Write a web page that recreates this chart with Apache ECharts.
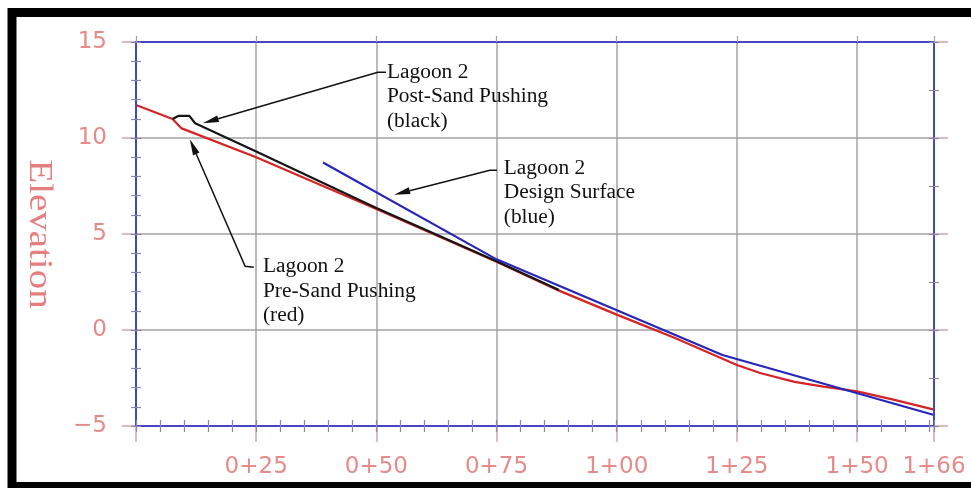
<!DOCTYPE html>
<html>
<head>
<meta charset="utf-8">
<script src="https://cdn.jsdelivr.net/npm/echarts@6/dist/echarts.min.js"></script>
<style>
html,body{margin:0;padding:0;background:#fff;}
#c{width:971px;height:488px;}
</style>
</head>
<body>
<div id="c"></div>
<script>
// ---- data (station in ft, elevation) ----
const preX  = [0, 7.6, 9.5, 25, 50, 75, 88, 100, 112, 125, 130, 137, 143, 150, 158, 166];
const preY  = [11.72, 10.99, 10.5, 9.0, 6.3, 3.55, 2.05, 0.8, -0.4, -1.82, -2.25, -2.7, -2.95, -3.2, -3.65, -4.15];
const postX = [7.6, 8.8, 11.1, 12.3, 25, 50, 75, 88];
const postY = [10.99, 11.15, 11.15, 10.77, 9.3, 6.36, 3.58, 2.08];
const designX = [38.9, 75, 122, 166];
const designY = [8.72, 3.68, -1.3, -4.43];

const xTicks = [25, 50, 75, 100, 125, 150, 166];
const yTicks = [-5, 0, 5, 10, 15];
const yTitle = 'Elevation';

const noteTexts = ['Lagoon 2\nPost-Sand Pushing\n(black)', 'Lagoon 2\nDesign Surface\n(blue)', 'Lagoon 2\nPre-Sand Pushing\n(red)'];
const noteAnchors = [[52.2, 14.05], [76.5, 9.05], [26.4, 3.92]];
const noteArrows = [
  [[52.0, 13.42], [50.3, 13.42], [13.9, 10.77]],
  [[75.1, 8.32], [73.6, 8.32], [53.7, 7.05]],
  [[24.5, 3.27], [22.7, 3.32], [11.2, 9.93]]
];

const zip = (xs, ys) => xs.map((x, i) => [x, ys[i]]);
const fmtX = v => {
  if (!xTicks.includes(Math.round(v))) return '';
  const h = Math.floor(v / 100), r = Math.round(v % 100);
  return h + '+' + (r < 10 ? '0' + r : r);
};
const fmtY = v => String(v).replace('-', '\u2212');

const BLUE_AX = '#4646c4';
const GRIDC = '#a3a3a3';
const LABC = '#e68a8a';
const MAJT = '#d2a4aa';
const MINT = '#8a88a8';

const chart = echarts.init(document.getElementById('c'), null, {renderer: 'canvas'});

const xBase = {type: 'value', min: 0, max: 166, gridIndex: 0};
const yBase = {type: 'value', min: yTicks[0], max: yTicks[yTicks.length - 1], gridIndex: 0};
const noLine = {show: false, onZero: false};
const blueLine = {show: true, onZero: false, lineStyle: {color: BLUE_AX, width: 2}};

chart.setOption({
  animation: false,
  backgroundColor: '#ffffff',
  grid: {left: 136, top: 42, width: 798, height: 384, outerBoundsMode: 'none', containLabel: false},
  xAxis: [
    Object.assign({}, xBase, {position: 'bottom', interval: 25, z: 1,
      axisLine: noLine,
      axisTick: {show: true, length: 16, lineStyle: {color: MAJT, width: 1.5}},
      axisLabel: {show: true, formatter: fmtX, showMaxLabel: true, showMinLabel: true, color: LABC,
        fontFamily: 'DejaVu Sans', fontSize: 23, margin: 30},
      splitLine: {show: true, lineStyle: {color: GRIDC, width: 1.5}}}),
    Object.assign({}, xBase, {position: 'bottom', interval: 5, z: 3,
      axisLine: blueLine,
      axisTick: {show: true, inside: true, length: 6, lineStyle: {color: MINT, width: 1.2}},
      axisLabel: {show: false}, splitLine: {show: false}}),
    Object.assign({}, xBase, {position: 'bottom', interval: 5, z: 3,
      axisLine: noLine,
      axisTick: {show: true, inside: false, length: 6, lineStyle: {color: MINT, width: 1.2}},
      axisLabel: {show: false}, splitLine: {show: false}}),
    Object.assign({}, xBase, {position: 'top', interval: 25, z: 3,
      axisLine: blueLine,
      axisTick: {show: true, length: 6, lineStyle: {color: GRIDC, width: 1.2}},
      axisLabel: {show: false}, splitLine: {show: false}})
  ],
  yAxis: [
    Object.assign({}, yBase, {position: 'left', interval: 5, z: 1,
      axisLine: noLine,
      axisTick: {show: true, length: 14, lineStyle: {color: MAJT, width: 1.5}},
      axisLabel: {show: true, formatter: fmtY, color: LABC, fontFamily: 'DejaVu Sans', fontSize: 23, margin: 29},
      splitLine: {show: true, lineStyle: {color: GRIDC, width: 1.5}}}),
    Object.assign({}, yBase, {position: 'left', interval: 1, z: 3,
      axisLine: blueLine,
      axisTick: {show: true, inside: true, length: 5, lineStyle: {color: MINT, width: 1.2}},
      axisLabel: {show: false}, splitLine: {show: false}}),
    Object.assign({}, yBase, {position: 'left', interval: 1, z: 3,
      axisLine: noLine,
      axisTick: {show: true, inside: false, length: 5, lineStyle: {color: MINT, width: 1.2}},
      axisLabel: {show: false}, splitLine: {show: false}}),
    Object.assign({}, yBase, {position: 'right', interval: 5, z: 3,
      axisLine: blueLine,
      axisTick: {show: true, length: 14, lineStyle: {color: MAJT, width: 1.5}},
      axisLabel: {show: false}, splitLine: {show: false}}),
    Object.assign({}, yBase, {position: 'right', interval: 2.5, z: 3,
      axisLine: noLine,
      axisTick: {show: true, inside: true, length: 5, lineStyle: {color: MINT, width: 1.2}},
      axisLabel: {show: false}, splitLine: {show: false}}),
    Object.assign({}, yBase, {position: 'right', interval: 2.5, z: 3,
      axisLine: noLine,
      axisTick: {show: true, inside: false, length: 5, lineStyle: {color: MINT, width: 1.2}},
      axisLabel: {show: false}, splitLine: {show: false}})
  ],
  series: [
    {name: 'Pre-Sand Pushing', type: 'line', xAxisIndex: 0, yAxisIndex: 0, data: zip(preX, preY),
      showSymbol: false, symbol: 'none', lineStyle: {color: '#d42426', width: 2.2}, z: 2},
    {name: 'Post-Sand Pushing', type: 'line', xAxisIndex: 0, yAxisIndex: 0, data: zip(postX, postY),
      showSymbol: false, symbol: 'none', lineStyle: {color: '#151515', width: 2.2}, z: 2},
    {name: 'Design Surface', type: 'line', xAxisIndex: 0, yAxisIndex: 0, data: zip(designX, designY),
      showSymbol: false, symbol: 'none', lineStyle: {color: '#2626b8', width: 2.2}, z: 2}
  ]
});

const toPx = p => chart.convertToPixel({xAxisIndex: 0, yAxisIndex: 0}, p);

function arrowEls(pts) {
  const px = pts.map(toPx);
  const n = px.length;
  const tip = px[n - 1], prev = px[n - 2];
  const dx = tip[0] - prev[0], dy = tip[1] - prev[1];
  const L = Math.hypot(dx, dy), ux = dx / L, uy = dy / L;
  const len = 16, hw = 3.5;
  const base = [tip[0] - ux * len, tip[1] - uy * len];
  const left = [base[0] - uy * hw, base[1] + ux * hw];
  const right = [base[0] + uy * hw, base[1] - ux * hw];
  return [
    {type: 'polyline', shape: {points: px.slice(0, n - 1).concat([base])},
      style: {stroke: '#111', lineWidth: 1.5, fill: null}, z: 10},
    {type: 'polygon', shape: {points: [tip, left, right]}, style: {fill: '#111'}, z: 10}
  ];
}

const gfx = [];
noteArrows.forEach(a => arrowEls(a).forEach(e => gfx.push(e)));
noteTexts.forEach((t, i) => {
  const p = toPx(noteAnchors[i]);
  gfx.push({type: 'text', x: p[0], y: p[1], scaleX: 1.07, z: 10,
    style: {text: t, fontFamily: 'Liberation Serif', fontSize: 20, lineHeight: 24.5,
      fill: '#111', align: 'left', verticalAlign: 'top'}});
});
const yMid = toPx([0, (yTicks[0] + yTicks[yTicks.length - 1]) / 2]);
gfx.push({type: 'text', x: 39, y: yMid[1], rotation: -Math.PI / 2, scaleX: 1.18, z: 10,
  style: {text: yTitle, fontFamily: 'Liberation Serif', fontSize: 33, fill: '#e57f7f',
    align: 'center', verticalAlign: 'middle'}});
gfx.push({type: 'rect', shape: {x: 12, y: 12.5, width: 1000, height: 474},
  style: {fill: null, stroke: '#000', lineWidth: 9}, z: 20});

chart.setOption({graphic: gfx});
</script>
</body>
</html>
